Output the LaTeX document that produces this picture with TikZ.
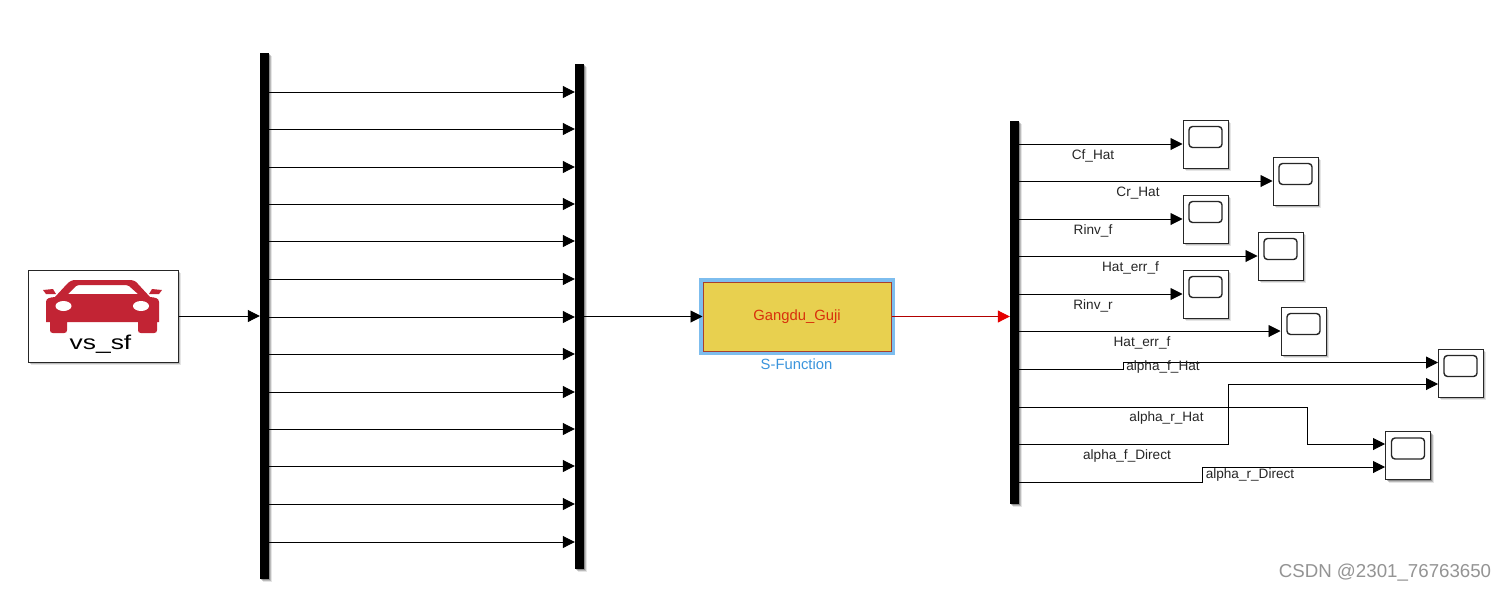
\documentclass[tikz,border=0pt]{standalone}
\usepackage{fontspec}
\setmainfont{Liberation Sans}
\usetikzlibrary{arrows.meta,shadows}
\definecolor{carred}{HTML}{C22434}
\definecolor{blockyellow}{HTML}{E8D04F}
\definecolor{blockedge}{HTML}{A8402E}
\definecolor{glowblue}{HTML}{7DBDEE}
\definecolor{labelblue}{HTML}{3A94DC}
\definecolor{gangred}{HTML}{D8300C}
\tikzset{
  softshadow/.style={
    drop shadow={shadow xshift=3pt,shadow yshift=-3pt,opacity=.10,fill=black},
    drop shadow={shadow xshift=2.2pt,shadow yshift=-2.2pt,opacity=.18,fill=black},
    drop shadow={shadow xshift=1.2pt,shadow yshift=-1.2pt,opacity=.25,fill=black}},
  busbar/.style={fill=black,draw=none,inner sep=0pt,minimum width=9pt,softshadow},
  wire/.style={line width=.95pt,draw=black,-{Triangle[length=12pt,width=12pt]}},
  redwire/.style={line width=.95pt,draw=red!70!black,-{Triangle[length=12pt,width=12pt,color=red!90!black]}},
  scopebox/.style={draw=black!85,line width=1pt,fill=white,inner sep=0pt,minimum width=45pt,minimum height=48pt,softshadow},
  scopescreen/.style={draw=black!85,line width=1.4pt,rounded corners=3.5pt,inner sep=0pt,minimum width=33pt,minimum height=21pt},
  siglabel/.style={font=\fontsize{13.6}{15}\selectfont,text=black!85,inner sep=0pt,yshift=-1.2pt},
}
\begin{document}
\begin{tikzpicture}[x=1pt,y=-1pt]
\useasboundingbox (0,0) rectangle (1506,592);
\fill[white] (0,0) rectangle (1506,592);

% source block
\node[draw=black!85,line width=1pt,fill=white,inner sep=0pt,minimum width=150pt,minimum height=92pt,softshadow] (vs) at (103,316) {};
\fill[carred] (43,290) -- (53,289) -- (56,294) -- (46,294) -- cycle;
\fill[carred] (162,290) -- (152,289) -- (149,294) -- (159,294) -- cycle;
\fill[carred,even odd rule]
  (46,302) .. controls (46,298) and (50,297.5) .. (55,297)
  -- (67,284) .. controls (70,281) and (72,280) .. (76,280)
  -- (129,280) .. controls (133,280) and (136,281) .. (138,284)
  -- (150,297) .. controls (155,297.5) and (159,298) .. (159,302)
  -- (159,322) -- (157,322) -- (157,330) .. controls (157,332) and (156,333) .. (154,333)
  -- (141,333) .. controls (139,333) and (138,332) .. (138,330) -- (138,322)
  -- (67,322) -- (67,330) .. controls (67,332) and (66,333) .. (64,333)
  -- (53,333) .. controls (51,333) and (50,332) .. (50,330) -- (50,322) -- (46,322) -- cycle
  (68,294) -- (76,286) .. controls (77,285) and (78,285) .. (79,285)
  -- (126,285) .. controls (127,285) and (128,285) .. (129,286) -- (138,294) -- cycle;
\fill[white] (63.5,306) ellipse [x radius=8,y radius=5];
\fill[white] (141,306) ellipse [x radius=8,y radius=5];
\node[inner sep=0pt] (vstext) at (100.5,344) {\scalebox{1.32}[1]{\fontsize{20}{22}\selectfont vs\_sf}};

% bus bars
\node[busbar,minimum height=526pt] (bar1) at (264.5,316) {};
\node[busbar,minimum height=505pt] (bar2) at (579.5,316.5) {};
\node[busbar,minimum height=383pt] (bar3) at (1014.5,312.5) {};

\draw[wire] (vs.east) -- (bar1.west |- vs.east);
\foreach \i/\yy in {1/92,2/129,3/167,4/204,5/241,6/279,7/317,8/354,9/392,10/429,11/466,12/504,13/542}{
  \coordinate (t\i) at (0,\yy);
  \draw[wire] (bar1.east |- t\i) -- (bar2.west |- t\i);
}

% S-function
\node[fill=glowblue,draw=none,inner sep=0pt,minimum width=196pt,minimum height=77pt] (funcglow) at (797,316.5) {};
\node[fill=blockyellow,draw=blockedge,line width=1pt,inner sep=0pt,minimum width=188pt,minimum height=69pt,
      font=\fontsize{14.8}{16}\selectfont,text=gangred] (func) at (797,316.5) {Gangdu\_Guji};
\node[font=\fontsize{14.8}{16}\selectfont,text=labelblue,inner sep=0pt] (funcname) at (796.5,364) {S-Function};
\draw[wire] (bar2.east |- func.west) -- (func.west);
\draw[redwire] (func.east) -- (bar3.west |- func.east);

% scopes
\foreach \n/\cx/\cy in {s1/1205.5/144,s2/1295.5/181,s3/1205.5/219,s4/1280.5/256,s5/1205.5/294,s6/1303.5/331,s7/1460.5/373,s8/1408/455.5}{
  \node[scopebox] (\n) at (\cx,\cy) {};
  \node[scopescreen] (\n screen) at (\cx,\cy-7) {};
}
\foreach \n in {s1,s2,s3,s4,s5,s6}{
  \draw[wire] (bar3.east |- \n.west) -- (\n.west);
}

% routed signals
\coordinate (s7a) at (1438,362.5);
\coordinate (s7b) at (1438,384);
\coordinate (s8a) at (1385,444);
\coordinate (s8b) at (1385,467);
\coordinate (b7) at (0,369);
\coordinate (b8) at (0,407);
\coordinate (b9) at (0,444);
\coordinate (b10) at (0,482);
\coordinate (k7) at (1123,0);
\coordinate (k8) at (1307.5,0);
\coordinate (k9) at (1228,0);
\coordinate (k10) at (1202,0);
\draw[wire] (bar3.east |- b7) -| (k7 |- s7a) -- (s7a);
\draw[wire] (bar3.east |- b8) -| (k8 |- s8a) -- (s8a);
\draw[wire] (bar3.east |- b9) -| (k9 |- s7b) -- (s7b);
\draw[wire] (bar3.east |- b10) -| (k10 |- s8b) -- (s8b);

% signal labels
\node[siglabel] (l1) at (1093,155) {Cf\_Hat};
\node[siglabel] (l2) at (1138,192) {Cr\_Hat};
\node[siglabel] (l3) at (1093,230) {Rinv\_f};
\node[siglabel] (l4) at (1130.5,267) {Hat\_err\_f};
\node[siglabel] (l5) at (1093,305) {Rinv\_r};
\node[siglabel] (l6) at (1142,342) {Hat\_err\_f};
\node[siglabel] (l7) at (1163,366) {alpha\_f\_Hat};
\node[siglabel] (l8) at (1166.5,417) {alpha\_r\_Hat};
\node[siglabel] (l9) at (1127,455) {alpha\_f\_Direct};
\node[siglabel] (l10) at (1250,474) {alpha\_r\_Direct};

% watermark
\node[font=\fontsize{18.7}{20}\selectfont,text=black!42,inner sep=0pt] (mark) at (1385,573) {CSDN @2301\_76763650};
\end{tikzpicture}
\end{document}
